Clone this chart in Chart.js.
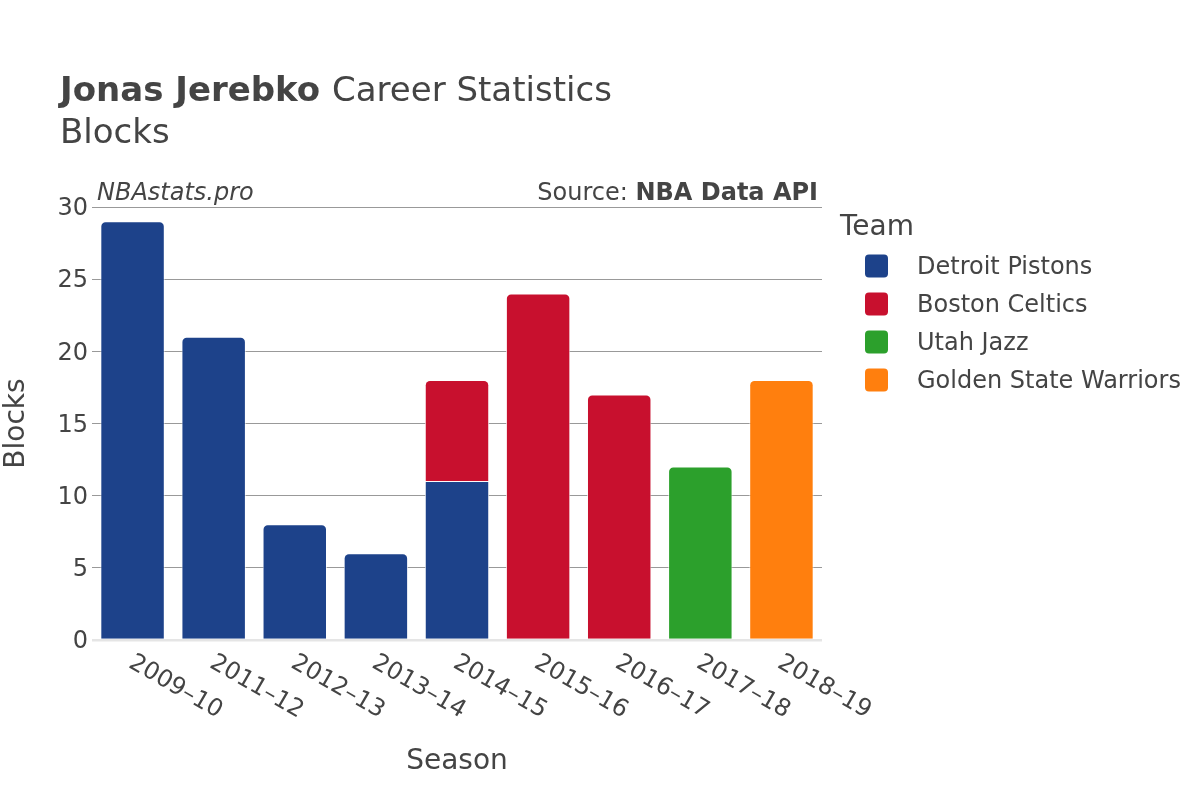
<!DOCTYPE html>
<html>
<head>
<meta charset="utf-8">
<script src="https://cdn.jsdelivr.net/npm/chart.js@4/dist/chart.umd.min.js"></script>
<style>
  html, body { margin: 0; padding: 0; background: #fff; }
  canvas { display: block; }
</style>
</head>
<body>
<canvas id="chart" width="1200" height="800"></canvas>
<script>
const seasons = ["2009\u201310", "2011\u201312", "2012\u201313", "2013\u201314", "2014\u201315", "2015\u201316", "2016\u201317", "2017\u201318", "2018\u201319"];
const teams = ["Detroit Pistons", "Boston Celtics", "Utah Jazz", "Golden State Warriors"];
const teamColors = ["#1d428a", "#c8102e", "#2ca02c", "#ff7f0e"];
const detroit = [29, 21, 8, 6, 11, null, null, null, null];
const boston = [null, null, null, null, 7, 24, 17, null, null];
const utah = [null, null, null, null, null, null, null, 12, null];
const warriors = [null, null, null, null, null, null, null, null, 18];
const yTicks = [0, 5, 10, 15, 20, 25, 30];

const FONT = "'DejaVu Sans', sans-serif";
const TEXT = "#444";

// only the top segment of a stack gets rounded corners
function isTop(ctx) {
  const ds = ctx.chart.data.datasets;
  let top = -1;
  for (let d = 0; d < ds.length; d++) {
    if (ds[d].data[ctx.dataIndex] != null) top = d;
  }
  return top === ctx.datasetIndex;
}

const seriesData = [detroit, boston, utah, warriors];
const datasets = teams.map((t, k) => ({
  label: t,
  data: seriesData[k],
  backgroundColor: teamColors[k],
  borderColor: "#fff",
  borderWidth: 0.8,
  borderSkipped: "start",
  borderRadius: (ctx) => isTop(ctx) ? {topLeft: 5, topRight: 5, bottomLeft: 0, bottomRight: 0} : 0,
  categoryPercentage: 1,
  barPercentage: 0.79
}));

const decor = {
  id: "decor",
  beforeDraw(chart) {
    const c = chart.ctx;
    c.save();
    c.fillStyle = "#fff";
    c.fillRect(0, 0, chart.width, chart.height);
    c.restore();
  },
  afterDraw(chart) {
    const c = chart.ctx;
    const area = chart.chartArea;
    const xs = chart.scales.x;
    c.save();
    c.fillStyle = TEXT;
    c.textBaseline = "alphabetic";

    // title
    c.textAlign = "left";
    c.font = "bold 34px " + FONT;
    c.fillText("Jonas Jerebko", 60, 101);
    const w = c.measureText("Jonas Jerebko ").width;
    c.font = "34px " + FONT;
    c.fillText("Career Statistics", 60 + w, 101);
    c.fillText("Blocks", 60, 143);

    // annotations
    c.font = "italic 24px " + FONT;
    c.fillText("NBAstats.pro", 97, 200);
    c.textAlign = "right";
    c.font = "bold 24px " + FONT;
    c.fillText("NBA Data API", 818, 200);
    const bw = c.measureText("NBA Data API").width;
    c.font = "24px " + FONT;
    c.fillText("Source: ", 818 - bw, 200);

    // x tick labels, rotated
    c.font = "24px " + FONT;
    c.textAlign = "left";
    c.textBaseline = "middle";
    seasons.forEach((s, i) => {
      const x = xs.getPixelForValue(i);
      c.save();
      c.translate(x - 2, 661);
      c.rotate(Math.PI / 6);
      c.fillText(s, 0, 0);
      c.restore();
    });

    // axis titles
    c.textAlign = "center";
    c.textBaseline = "middle";
    c.font = "28px " + FONT;
    c.fillText("Season", (area.left + area.right) / 2, 762);
    c.save();
    c.translate(17, (area.top + area.bottom) / 2);
    c.rotate(-Math.PI / 2);
    c.fillText("Blocks", 0, 0);
    c.restore();

    // legend
    c.textAlign = "left";
    c.font = "28px " + FONT;
    c.fillText("Team", 840, 228);
    c.font = "24px " + FONT;
    teams.forEach((t, k) => {
      const y = 266 + k * 38;
      c.fillStyle = teamColors[k];
      c.beginPath();
      c.roundRect(865, y - 11.5, 23, 23, 4);
      c.fill();
      c.fillStyle = TEXT;
      c.fillText(t, 917, y + 2);
    });
    c.restore();
  }
};

new Chart(document.getElementById("chart"), {
  type: "bar",
  data: { labels: seasons, datasets: datasets },
  options: {
    responsive: false,
    animation: false,
    layout: { padding: { left: 0, right: 378, top: 207, bottom: 0 } },
    plugins: { legend: { display: false }, tooltip: { enabled: false } },
    scales: {
      x: {
        stacked: true,
        grid: { display: false },
        border: { display: false },
        ticks: { display: false },
        afterFit: (s) => { s.height = 160; }
      },
      y: {
        stacked: true,
        min: 0,
        max: 30,
        afterBuildTicks: (s) => { s.ticks = yTicks.map(v => ({ value: v })); },
        afterFit: (s) => { s.width = 92; },
        border: { display: false },
        grid: {
          drawTicks: false,
          color: (ctx) => ctx.tick && ctx.tick.value === 0 ? "#e5e5e5" : "#999",
          lineWidth: (ctx) => ctx.tick && ctx.tick.value === 0 ? 2.5 : 1
        },
        ticks: {
          padding: 4,
          labelOffset: 2,
          color: TEXT,
          font: { family: "DejaVu Sans", size: 24 }
        }
      }
    }
  },
  plugins: [decor]
});
</script>
</body>
</html>
